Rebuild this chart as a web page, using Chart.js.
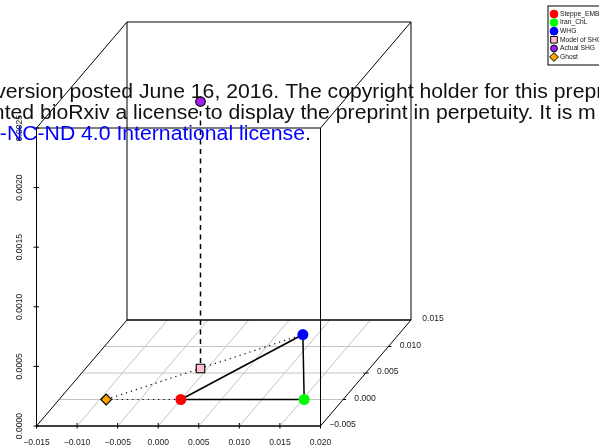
<!DOCTYPE html>
<html><head><meta charset="utf-8">
<style>html,body{margin:0;padding:0;background:#fff;overflow:hidden}canvas{display:block}</style>
<script src="https://cdn.jsdelivr.net/npm/chart.js@4/dist/chart.umd.min.js"></script>
</head><body><canvas id="c" width="599" height="447"></canvas>
<script>
const categories=["Steppe_EMBA","Iran_ChL","WHG","Model of SHG","Actual SHG","Ghost"];
const xValues=[0.0000,0.0152,0.0082,-0.00084,-0.00084,-0.0092];
const yValues=[0.0000,0.0000,0.01226,0.00585,0.00585,0.0000];
const zValues=[0,0,0,0,0.00224,0];
const colors=["#ff0000","#00ff00","#0000ff","#ffc0cb","#a020f0","#ffa500"];
const markerStyles=["circle","circle","circle","rect","circle","rectRot"];
const xTicks=[-0.015,-0.010,-0.005,0,0.005,0.010,0.015,0.020];
const yTicks=[-0.005,0,0.005,0.010,0.015];
const zTicks=[0,0.0005,0.0010,0.0015,0.0020,0.0025];
const stampLines=["version posted June 16, 2016. The copyright holder for this preprint","nted bioRxiv a license to display the preprint in perpetuity. It is m"];
const stampBlue="-NC-ND 4.0 International license";

const xMin=-0.015,xMax=0.020,yMin=-0.005,yMax=0.015,zMin=0,zMax=0.0025;
const shearX=0.5577,shearZ=0.04446;
const P=(x,y,z)=>({x:x+shearX*(y-yMin),y:z+shearZ*(y-yMin)});
const FONT='"Liberation Sans",Arial,sans-serif';
const fmt=(v,d)=>v.toFixed(d).replace('-','\u2212');
const pt=i=>P(xValues[i],yValues[i],zValues[i]);
const seg=(pts,o)=>Object.assign({type:'scatter',showLine:true,pointRadius:0,pointHoverRadius:0,fill:false,clip:false,tension:0,data:pts,borderColor:'#000',borderWidth:1,order:5},o||{});

const ds=[];
categories.forEach((c,i)=>{
  const r=[5.5,5.5,5.5,6,4.8,5.4][i];
  const hasEdge=i>=3;
  ds.push({type:'scatter',label:c,data:[pt(i)],clip:false,order:1,pointStyle:markerStyles[i],
    pointRadius:r,backgroundColor:colors[i],borderColor:hasEdge?'#000':colors[i],borderWidth:hasEdge?1.1:0});
});
xTicks.slice(1,-1).forEach(x=>ds.push(seg([P(x,yMin,0),P(x,yMax,0)],{borderColor:'#c4c4c4',order:9})));
yTicks.slice(1,-1).forEach(y=>ds.push(seg([P(xMin,y,0),P(xMax,y,0)],{borderColor:'#c4c4c4',order:9})));
const edges=[
 [[xMin,yMin,zMin],[xMax,yMin,zMin],1.6],[[xMin,yMax,zMin],[xMax,yMax,zMin],1.6],
 [[xMin,yMin,zMax],[xMax,yMin,zMax],1],[[xMin,yMax,zMax],[xMax,yMax,zMax],1],
 [[xMin,yMin,zMin],[xMin,yMin,zMax],1],[[xMax,yMin,zMin],[xMax,yMin,zMax],1],
 [[xMin,yMax,zMin],[xMin,yMax,zMax],1],[[xMax,yMax,zMin],[xMax,yMax,zMax],1],
 [[xMin,yMin,zMin],[xMin,yMax,zMin],1],[[xMax,yMin,zMin],[xMax,yMax,zMin],1],
 [[xMin,yMin,zMax],[xMin,yMax,zMax],1],[[xMax,yMin,zMax],[xMax,yMax,zMax],1]];
edges.forEach(e=>ds.push(seg([P(...e[0]),P(...e[1])],{borderWidth:e[2],order:8})));
[[0,1],[1,2],[2,0]].forEach(p=>ds.push(seg([pt(p[0]),pt(p[1])],{borderWidth:1.5,order:4})));
[[5,0],[5,2]].forEach(p=>ds.push(seg([pt(p[0]),pt(p[1])],{borderWidth:1.2,borderDash:[1.2,4],order:4})));
ds.push(seg([pt(4),pt(3)],{borderWidth:1.5,borderDash:[5,4.5],order:4}));

const overlay={id:'overlay',
 beforeDatasetsDraw(chart){
  const c=chart.ctx,sx=chart.scales.x,sz=chart.scales.y;
  c.save();
  c.strokeStyle='#000';c.lineWidth=1;c.fillStyle='#222';c.font='8.6px '+FONT;
  const px0=sx.getPixelForValue(xMin);
  zTicks.forEach(v=>{
    const y=sz.getPixelForValue(v);
    c.beginPath();c.moveTo(px0-3,y);c.lineTo(px0+2.5,y);c.stroke();
    c.save();c.translate(px0-16.5,y);c.rotate(-Math.PI/2);c.textAlign='center';c.textBaseline='middle';
    c.fillText(fmt(v,4),0,0);c.restore();
  });
  const py0=sz.getPixelForValue(0);
  xTicks.forEach(v=>{
    const x=sx.getPixelForValue(v);
    c.beginPath();c.moveTo(x,py0-3);c.lineTo(x,py0+2.5);c.stroke();
  });
  yTicks.forEach(v=>{
    const q=P(xMax,v,0),x=sx.getPixelForValue(q.x),y=sz.getPixelForValue(q.y);
    if(v!==yMin&&v!==yMax){c.beginPath();c.moveTo(x-3,y);c.lineTo(x+3,y);c.stroke();}
    c.textAlign='center';c.textBaseline='middle';
    c.fillText(fmt(v,3),x+22,y-1);
  });
  c.restore();
 },
 afterDatasetsDraw(chart){
  const c=chart.ctx;
  c.save();
  const k=21.2/20;
  const wide=(s,x,y,col,al)=>{c.save();c.translate(x,y);c.scale(k,1);c.fillStyle=col;c.textAlign=al;c.fillText(s,0,0);c.restore();};
  c.font='20px '+FONT;c.textBaseline='alphabetic';
  wide(stampLines[0],-4.8,98,'#111','left');
  const w=c.measureText("nted ").width*k;
  wide(stampLines[1],40-w,119.3,'#111','left');
  wide(stampBlue,305,140.3,'#0000ff','right');
  wide('.',305,140.3,'#111','left');
  c.fillStyle='#fff';c.strokeStyle='#000';c.lineWidth=1;
  c.fillRect(548,6,60,59);c.strokeRect(548,6,60,59);
  c.font='6.7px '+FONT;c.textBaseline='middle';c.textAlign='left';
  categories.forEach((n,i)=>{
    const y=14+i*8.6,x=554;
    c.fillStyle=colors[i];c.strokeStyle=i>=3?'#000':colors[i];c.lineWidth=1;
    c.beginPath();
    if(markerStyles[i]==='rect')c.rect(x-3.3,y-3.3,6.6,6.6);
    else if(markerStyles[i]==='rectRot'){c.moveTo(x-4.4,y);c.lineTo(x,y-4.4);c.lineTo(x+4.4,y);c.lineTo(x,y+4.4);c.closePath();}
    else c.arc(x,y,i>=3?3.4:3.9,0,Math.PI*2);
    c.fill();c.stroke();
    c.fillStyle='#111';c.fillText(n,560,y);
  });
  c.restore();
 }};

new Chart(document.getElementById('c'),{
 type:'scatter',data:{datasets:ds},plugins:[overlay],
 options:{responsive:false,animation:false,events:[],layout:{padding:0,autoPadding:false},
  plugins:{legend:{display:false},tooltip:{enabled:false},title:{display:false}},
  scales:{
   x:{type:'linear',min:xMin,max:xMin+(599-36.5)/8114.3,position:'bottom',
      afterBuildTicks(a){a.ticks=xTicks.map(v=>({value:v}));},
      afterFit(a){a.height=21;a.paddingLeft=0;a.paddingRight=0;},
      grid:{display:false,drawTicks:false},border:{display:false},
      ticks:{autoSkip:false,maxRotation:0,minRotation:0,padding:11,color:'#222',font:{family:'"Liberation Sans"',size:8.6},callback:v=>fmt(v,3)}},
   y:{type:'linear',min:zMin,max:426/119200,position:'left',
      afterBuildTicks(a){a.ticks=zTicks.map(v=>({value:v}));},
      afterFit(a){a.width=36.5;a.paddingTop=0;a.paddingBottom=0;},
      grid:{display:false,drawTicks:false},border:{display:false},ticks:{display:false}}
  }}});
</script></body></html>
